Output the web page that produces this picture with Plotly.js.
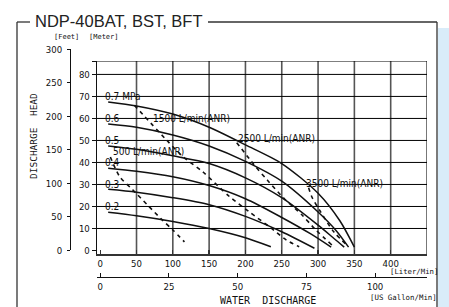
<!DOCTYPE html>
<html><head><meta charset="utf-8">
<script src="https://cdn.plot.ly/plotly-3.0.1.min.js"></script>
<style>html,body{margin:0;padding:0;background:#fff;}#chart{width:449px;height:307px;}</style>
</head><body><div id="chart"></div>
<script>
// ---- data (x: water discharge in L/min, y: discharge head in m) ----
const pressureLabels = ["0.7 MPa", "0.6", "0.5", "0.4", "0.3", "0.2"];
const pressureLabelHead = [70, 60, 50, 40, 30, 20];
const flow07 = [11, 50, 100, 150, 200, 250, 300, 330, 350];
const head07 = [67.5, 65.7, 62, 56, 48, 39.5, 26, 13.5, 1.5];
const flow06 = [11, 50, 100, 150, 200, 250, 300, 325, 342];
const head06 = [57.5, 56, 52.5, 47.5, 40.5, 31.5, 17.5, 9, 1.5];
const flow05 = [11, 50, 100, 150, 200, 250, 300, 320, 336];
const head05 = [47.5, 46, 43, 39.5, 33, 24, 11.5, 6, 1.5];
const flow04 = [11, 50, 100, 150, 200, 250, 290, 318];
const head04 = [37.4, 36, 33.5, 29.5, 23.5, 15, 7.5, 1.5];
const flow03 = [11, 50, 100, 150, 200, 250, 295];
const head03 = [27.8, 26.5, 24, 20.8, 15.5, 8.5, 1];
const flow02 = [11, 50, 100, 150, 200, 235];
const head02 = [17.4, 15.8, 13.2, 10, 5.8, 1.7];

const airLabels = ["500 L/min(ANR)", "1500 L/min(ANR)", "2500 L/min(ANR)", "3500 L/min(ANR)"];
const airLabelFlow = [15, 70, 187, 280];
const airLabelHead = [45, 60, 51, 30.5];
const flowAir500 = [14, 27, 45, 65, 85, 100, 116];
const headAir500 = [42.5, 33.5, 27.5, 20.7, 14, 9.3, 3.9];
const flowAir1500 = [47, 89, 114, 141, 178, 205, 233, 256, 274];
const headAir1500 = [66, 51, 42.6, 35.8, 24.5, 17.6, 10.8, 4.8, 1.7];
const flowAir2500 = [188, 212, 230, 253, 278, 297, 319];
const headAir2500 = [49, 38.9, 32, 23.7, 16.1, 9.3, 2.5];
const flowAir3500 = [287, 291.5, 303.4, 321.6, 342];
const headAir3500 = [28.5, 24.3, 17.6, 8.5, 1.7];

const literTicks = [0, 50, 100, 150, 200, 250, 300, 350, 400, 450];
const literTickText = ["0", "50", "100", "150", "200", "250", "300", "350", "400", ""];
const gallonTicks = [0, 25, 50, 75, 100];
const meterTicks = [0, 10, 20, 30, 40, 50, 60, 70, 80];
const feetTicks = [0, 50, 100, 150, 200, 250, 300];
const gridFlow = [50, 100, 150, 200, 250, 300, 350, 400, 450];
const gridHead = [10, 20, 30, 40, 50, 60, 70, 80];

// ---- geometry ----
const W = 449, H = 307;
const M = {l: 70, r: 22, t: 45, b: 30};
const PW = W - M.l - M.r, PH = H - M.t - M.b;
const xp = px => (px - M.l) / PW;
const yp = py => (H - M.b - py) / PH;
const L_PER_GAL = 3.78541, FT_PER_M = 3.28084;
const xRange = [-4.4, 450];
const yRange = [-1.6, 86.1];
const plotLeft = 97, plotRight = 427, plotTop = 61, plotBottom = 254;
const yDom = [yp(plotBottom), yp(plotTop)];
const pxPerM = (plotBottom - plotTop) / (yRange[1] - yRange[0]);
const y0px = plotBottom + yRange[0] * pxPerM;
const feetTopPx = y0px - (300 / FT_PER_M) * pxPerM;

const narrow = "'Liberation Sans Narrow', 'DejaVu Sans Condensed', 'Arial Narrow', sans-serif";
const mono = "'DejaVu Sans Mono', monospace";
const ink = '#111';

const traces = [];
const solids = [[flow07, head07], [flow06, head06], [flow05, head05], [flow04, head04], [flow03, head03], [flow02, head02]];
solids.forEach(s => traces.push({x: s[0], y: s[1], type: 'scatter', mode: 'lines',
  line: {color: ink, width: 1.5, shape: 'spline', smoothing: 0.8}, hoverinfo: 'skip'}));
const dashed = [[flowAir500, headAir500], [flowAir1500, headAir1500], [flowAir2500, headAir2500], [flowAir3500, headAir3500]];
dashed.forEach(s => traces.push({x: s[0], y: s[1], type: 'scatter', mode: 'lines',
  line: {color: ink, width: 1.6, dash: '4px,4px', shape: 'spline', smoothing: 0.8}, hoverinfo: 'skip'}));
// carriers for the extra axes
traces.push({x: [0], y: [0], xaxis: 'x2', yaxis: 'y', mode: 'markers', marker: {opacity: 0}, hoverinfo: 'skip'});
traces.push({x: [0], y: [0], xaxis: 'x', yaxis: 'y2', mode: 'markers', marker: {opacity: 0}, hoverinfo: 'skip'});

const shapes = [];
gridFlow.forEach(v => shapes.push({type: 'line', xref: 'x', yref: 'y', x0: v, x1: v, y0: yRange[0], y1: yRange[1],
  line: {color: '#555', width: 1.6}, layer: 'below'}));
gridHead.forEach(v => shapes.push({type: 'line', xref: 'x', yref: 'y', x0: xRange[0], x1: xRange[1], y0: v, y1: v,
  line: {color: '#000', width: 1}, layer: 'below'}));
shapes.push({type: 'line', xref: 'x', yref: 'y', x0: xRange[0], x1: xRange[1], y0: yRange[1], y1: yRange[1],
  line: {color: '#000', width: 1.2}, layer: 'below'});
// outer frame
const fc = '#333';
shapes.push({type: 'rect', xref: 'paper', yref: 'paper', x0: xp(438), x1: xp(452), y0: yp(28), y1: yp(320),
  fillcolor: '#d9ecf9', line: {width: 0}, layer: 'below'});
shapes.push({type: 'line', xref: 'paper', yref: 'paper', x0: xp(17), x1: xp(17), y0: yp(22), y1: yp(320), line: {color: fc, width: 1.3}});
shapes.push({type: 'line', xref: 'paper', yref: 'paper', x0: xp(17), x1: xp(30), y0: yp(22), y1: yp(22), line: {color: fc, width: 1.3}});
shapes.push({type: 'line', xref: 'paper', yref: 'paper', x0: xp(208), x1: xp(437), y0: yp(22), y1: yp(22), line: {color: fc, width: 1.3}});
shapes.push({type: 'line', xref: 'paper', yref: 'paper', x0: xp(437), x1: xp(437), y0: yp(22), y1: yp(320), line: {color: fc, width: 1.3}});

const annotations = [];
pressureLabels.forEach((t, i) => annotations.push({text: t, x: 4, y: pressureLabelHead[i], xref: 'x', yref: 'y',
  xanchor: 'left', yanchor: 'middle', showarrow: false, font: {family: narrow, size: 10, color: ink}}));
airLabels.forEach((t, i) => annotations.push({text: t, x: airLabelFlow[i], y: airLabelHead[i], xref: 'x', yref: 'y',
  xanchor: 'left', yanchor: 'middle', showarrow: false, font: {family: narrow, size: 10, color: ink}}));
const pa = (text, x, y, opts) => annotations.push(Object.assign({text: text, x: xp(x), y: yp(y), xref: 'paper', yref: 'paper',
  showarrow: false, xanchor: 'center', yanchor: 'middle', font: {family: mono, size: 7, color: ink}}, opts || {}));
pa('NDP-40BAT, BST, BFT', 33, 21, {xanchor: 'left', font: {family: "'Liberation Sans', Arial, sans-serif", size: 16.5, color: '#222'}});
pa('[Feet]', 66, 37);
pa('[Meter]', 104, 37);
pa('DISCHARGE\u00a0\u00a0HEAD', 33, 136, {textangle: -90, font: {family: mono, size: 9.5, color: ink}});
pa('[Liter/Min]', 388, 271, {xanchor: 'left', font: {family: mono, size: 7.3, color: ink}});
pa('[US Gallon/Min]', 368, 297, {xanchor: 'left', font: {family: mono, size: 7.4, color: ink}});
pa('WATER\u00a0\u00a0DISCHARGE', 268, 300, {font: {family: mono, size: 10, color: ink}});

const tickFont = {family: narrow, size: 9.5, color: ink};
const layout = {
  width: W, height: H, margin: M, showlegend: false,
  paper_bgcolor: '#fff', plot_bgcolor: 'rgba(0,0,0,0)',
  xaxis: {domain: [xp(plotLeft), 1], range: xRange, anchor: 'y', showgrid: false, zeroline: false,
    showline: true, linecolor: '#333', linewidth: 1.6, tickmode: 'array', tickvals: literTicks, ticktext: literTickText,
    ticks: 'inside', ticklen: 4, tickcolor: '#333', tickwidth: 1.3, tickfont: tickFont, fixedrange: true},
  xaxis2: {overlaying: 'x', anchor: 'free', position: 0, side: 'bottom',
    range: [xRange[0] / L_PER_GAL, xRange[1] / L_PER_GAL], showgrid: false, zeroline: false,
    showline: true, linecolor: '#111', linewidth: 1.3, tickmode: 'array', tickvals: gallonTicks,
    ticks: 'inside', ticklen: 4, tickcolor: '#111', tickfont: tickFont, fixedrange: true},
  yaxis: {domain: yDom, range: yRange, anchor: 'x', showgrid: false, zeroline: false,
    showline: true, linecolor: '#111', linewidth: 1.3, tickmode: 'array',
    tickvals: meterTicks.concat([yRange[1]]), ticktext: meterTicks.map(String).concat(['']),
    ticks: 'outside', ticklen: 4, tickcolor: '#111', tickfont: tickFont, fixedrange: true},
  yaxis2: {domain: [yp(y0px), yp(feetTopPx)], range: [0, 300], anchor: 'free', position: 0, side: 'left',
    showgrid: false, zeroline: false, showline: true, linecolor: '#111', linewidth: 1.3,
    tickmode: 'array', tickvals: feetTicks, ticks: 'outside', ticklen: 3, tickcolor: '#111', tickfont: tickFont,
    ticklabelstandoff: 3, fixedrange: true},
  shapes: shapes, annotations: annotations
};
Plotly.newPlot('chart', traces, layout, {staticPlot: true, displayModeBar: false});
</script></body></html>
